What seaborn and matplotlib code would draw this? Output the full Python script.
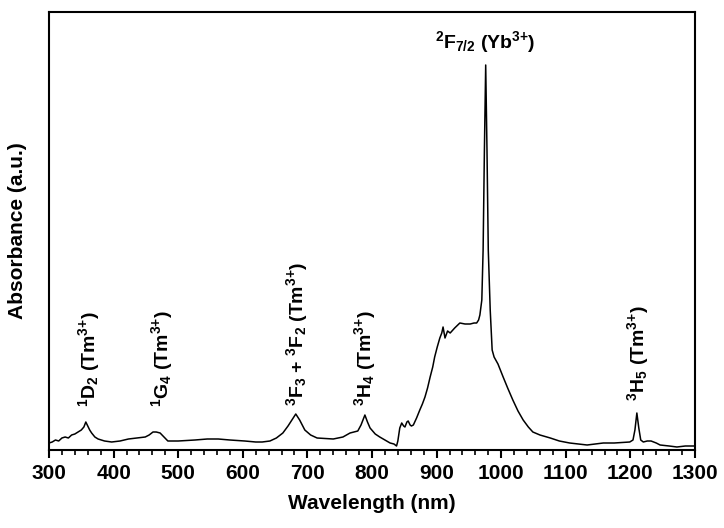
import matplotlib
matplotlib.use("Agg")
import matplotlib.pyplot as plt
import seaborn as sns
import pandas as pd
from matplotlib.ticker import MultipleLocator

# ── Spectrum (wavelength in nm, absorbance in a.u.) ────
wavelength = [
    300, 305, 310, 315, 320, 325, 330, 335, 340, 345, 350, 354, 357, 360, 363,
    366, 371, 376, 386, 397, 410, 423, 436, 449, 455, 461, 466, 472, 478, 484,
    500, 526, 545, 562, 580, 603, 620, 630, 642, 652, 662, 670, 676, 682, 688,
    696, 705, 715, 740, 755, 766, 772, 778, 783, 789, 793, 797, 805, 812, 820,
    828, 834, 838, 840, 843, 846, 849, 851, 854, 856, 859, 861, 864, 869, 874,
    878, 882, 886, 890, 894, 897, 901, 905, 908, 910, 913, 917, 921, 928, 936,
    944, 952, 958, 962, 965, 967, 970, 972, 974, 976, 978, 980, 983, 986, 989,
    995, 1003, 1010, 1018, 1026, 1034, 1042, 1049, 1060, 1076, 1090, 1106, 1120,
    1133, 1145, 1158, 1175, 1199, 1204, 1207, 1210, 1213, 1216, 1220, 1226,
    1232, 1240, 1246, 1260, 1272, 1285, 1297, 1300,
]
absorbance = [
    7, 8, 10, 9, 12, 13, 12, 15, 16, 18, 20, 23, 28, 24, 20,
    17, 13, 11, 9, 8, 9, 11, 12, 13, 15, 18, 18, 17, 13, 9,
    9, 10, 11, 11, 10, 9, 8, 8, 9, 12, 17, 24, 30, 36, 30,
    20, 15, 12, 11, 13, 17, 18, 19, 25, 35, 28, 22, 16, 13, 10,
    7, 6, 4, 9, 22, 27, 24, 23, 28, 29, 25, 24, 25, 32, 40,
    46, 53, 62, 73, 83, 93, 103, 112, 117, 123, 112, 119, 117, 122, 127,
    126, 126, 127, 127, 130, 135, 150, 200, 300, 385, 300, 200, 140, 100, 93,
    86, 73, 62, 50, 39, 30, 23, 18, 15, 12, 9, 7, 6,
    5, 6, 7, 7, 8, 10, 20, 37, 22, 10, 8, 9,
    9, 7, 5, 4, 3, 4, 4, 4,
]

# ── Peak annotations ───────────────────────────────────────────────────────────
label_text = [
    r"$^{1}$D$_{2}$ (Tm$^{3{+}}$)",
    r"$^{1}$G$_{4}$ (Tm$^{3{+}}$)",
    r"$^{3}$F$_{3}$ + $^{3}$F$_{2}$ (Tm$^{3{+}}$)",
    r"$^{3}$H$_{4}$ (Tm$^{3{+}}$)",
    r"$^{3}$H$_{5}$ (Tm$^{3{+}}$)",
]
label_x = [362, 475, 684, 789, 1212]
label_y = [43, 43, 44, 44, 49]

yb_label = r"$^{2}$F$_{7/2}$ (Yb$^{3{+}}$)"
yb_x, yb_y = 976, 408

sns.set_theme(style="ticks")
plt.rcParams["font.family"] = ["Liberation Sans", "DejaVu Sans"]
plt.rcParams["mathtext.default"] = "regular"
plt.rcParams["text.color"] = "black"
plt.rcParams["axes.labelcolor"] = "black"
plt.rcParams["xtick.color"] = "black"

df = pd.DataFrame({"Wavelength": wavelength, "Absorbance": absorbance})

fig = plt.figure(figsize=(7.24, 5.28), dpi=100)
ax = fig.add_axes([49 / 724, 78 / 528, 646 / 724, 438 / 528])

sns.lineplot(data=df, x="Wavelength", y="Absorbance", ax=ax,
             color="black", linewidth=1.1, estimator=None, sort=False)

ax.set_xlim(300, 1300)
ax.set_ylim(0, 438)
ax.xaxis.set_major_locator(MultipleLocator(100))
ax.xaxis.set_minor_locator(MultipleLocator(20))
ax.set_yticks([])
ax.tick_params(axis="x", which="major", direction="out", length=6, width=1.5,
               labelsize=15, pad=4, colors="black")
ax.tick_params(axis="x", which="minor", direction="out", length=3.5, width=1.2,
               colors="black")
for lbl in ax.get_xticklabels():
    lbl.set_fontweight("bold")

for side in ["left", "right", "top", "bottom"]:
    ax.spines[side].set_visible(True)
    ax.spines[side].set_linewidth(1.5)
    ax.spines[side].set_color("black")

ax.set_xlabel("Wavelength (nm)", fontsize=15, fontweight="bold", labelpad=8,
              color="black")
ax.set_ylabel("Absorbance (a.u.)", fontsize=15, fontweight="bold", labelpad=16,
              color="black")

for txt, x, y in zip(label_text, label_x, label_y):
    ax.text(x, y, txt, rotation=90, ha="center", va="bottom",
            fontsize=14, fontweight="bold", color="black")

ax.text(yb_x, yb_y, yb_label, ha="center", va="center",
        fontsize=14, fontweight="bold", color="black")

fig.savefig("out.png", dpi=100)
plt.close(fig)
